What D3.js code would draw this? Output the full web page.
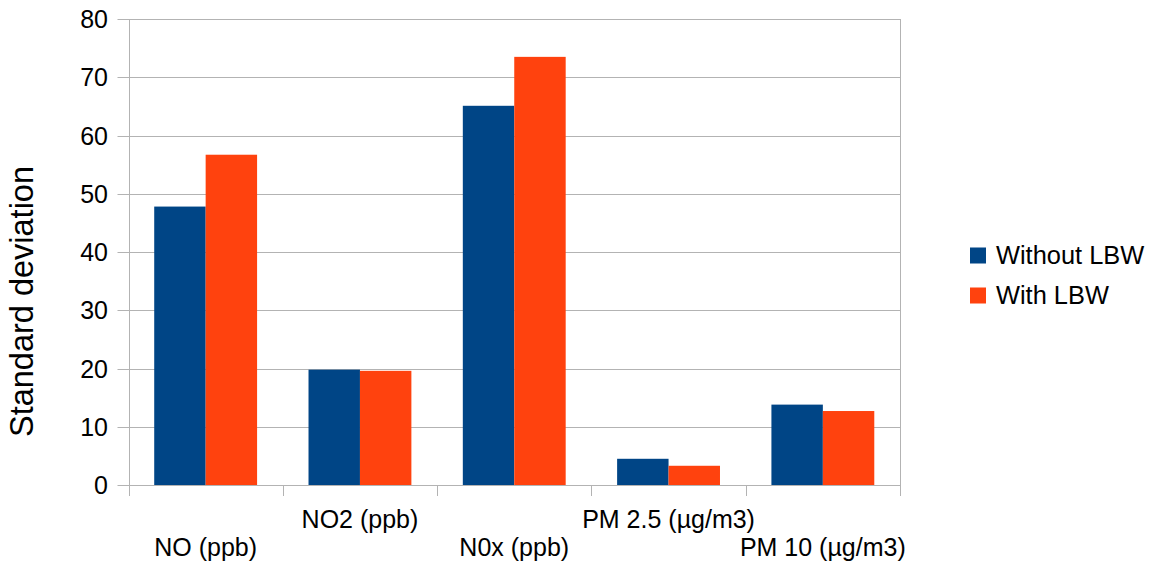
<!DOCTYPE html>
<html>
<head>
<meta charset="utf-8">
<script src="https://cdn.jsdelivr.net/npm/d3@7"></script>
<style>
  html, body { margin: 0; padding: 0; background: #fff; }
  svg { display: block; font-family: "Liberation Sans", Arial, sans-serif; }
</style>
</head>
<body>
<svg id="chart" width="1154" height="569"></svg>
<script>
// Pollutant categories and standard deviations for each group
const categories = ["NO (ppb)", "NO2 (ppb)", "N0x (ppb)", "PM 2.5 (µg/m3)", "PM 10 (µg/m3)"];
const seriesNames = ["Without LBW", "With LBW"];
const withoutLBW = [47.8, 19.8, 65.1, 4.5, 13.8];
const withLBW = [56.7, 19.6, 73.5, 3.3, 12.7];
const yTicks = [0, 10, 20, 30, 40, 50, 60, 70, 80];

const colors = ["#004586", "#ff420e"];
const svg = d3.select("#chart");

const plot = { left: 128.5, right: 900, top: 19, bottom: 485 };

const x = d3.scaleBand().domain(categories).range([plot.left, plot.right]).paddingInner(0).paddingOuter(0);
const xInner = d3.scaleBand().domain(seriesNames).range([0, x.bandwidth()]).paddingInner(0).paddingOuter(0.5);
const y = d3.scaleLinear().domain([0, 80]).range([plot.bottom, plot.top]);

// Horizontal gridlines with short tick stubs on the left
svg.append("g").selectAll("line").data(yTicks).join("line")
  .attr("x1", plot.left - 11).attr("x2", plot.right)
  .attr("y1", d => Math.round(y(d)) + 0.5).attr("y2", d => Math.round(y(d)) + 0.5)
  .attr("stroke", "#b3b3b3").attr("stroke-width", 1);

// Y tick labels
svg.append("g").selectAll("text").data(yTicks).join("text")
  .attr("x", 108).attr("y", d => y(d))
  .attr("dy", "0.36em")
  .attr("text-anchor", "end")
  .attr("font-size", 25).attr("fill", "#000")
  .text(d => d);

// Bars
const groups = svg.append("g").selectAll("g").data(categories).join("g")
  .attr("transform", d => `translate(${x(d)},0)`);
groups.selectAll("rect")
  .data((d, i) => [
    { s: seriesNames[0], v: withoutLBW[i], c: colors[0] },
    { s: seriesNames[1], v: withLBW[i], c: colors[1] }
  ])
  .join("rect")
  .attr("x", d => xInner(d.s))
  .attr("width", xInner.bandwidth())
  .attr("y", d => y(d.v))
  .attr("height", d => y(0) - y(d.v))
  .attr("fill", d => d.c);

// Left axis line and right frame edge
svg.append("g").selectAll("line").data([plot.left, plot.right]).join("line")
  .attr("x1", d => Math.round(d) + 0.5).attr("x2", d => Math.round(d) + 0.5)
  .attr("y1", plot.top).attr("y2", plot.bottom + 11)
  .attr("stroke", "#b3b3b3");

// Category boundary ticks below the baseline
const inner = categories.slice(1).map(c => x(c));
svg.append("g").selectAll("line").data(inner).join("line")
  .attr("x1", d => Math.round(d) + 0.5).attr("x2", d => Math.round(d) + 0.5)
  .attr("y1", plot.bottom).attr("y2", plot.bottom + 11)
  .attr("stroke", "#b3b3b3");

// Category labels, staggered on two rows
svg.append("g").selectAll("text").data(categories).join("text")
  .attr("x", d => x(d) + x.bandwidth() / 2)
  .attr("y", (d, i) => i % 2 === 0 ? 556 : 528)
  .attr("text-anchor", "middle")
  .attr("font-size", 25).attr("fill", "#000")
  .text(d => d);

// Y axis title
svg.append("text")
  .attr("transform", "translate(33,301.5) rotate(-90)")
  .attr("text-anchor", "middle")
  .attr("font-size", 32.5).attr("fill", "#000")
  .text("Standard deviation");

// Legend
const legend = svg.append("g").selectAll("g").data(seriesNames).join("g")
  .attr("transform", (d, i) => `translate(970,${247.5 + i * 40})`);
legend.append("rect").attr("width", 16).attr("height", 16).attr("fill", (d, i) => colors[i]);
legend.append("text")
  .attr("x", 26).attr("y", 16.5)
  .attr("font-size", 25.4).attr("fill", "#000")
  .text(d => d);
</script>
</body>
</html>
